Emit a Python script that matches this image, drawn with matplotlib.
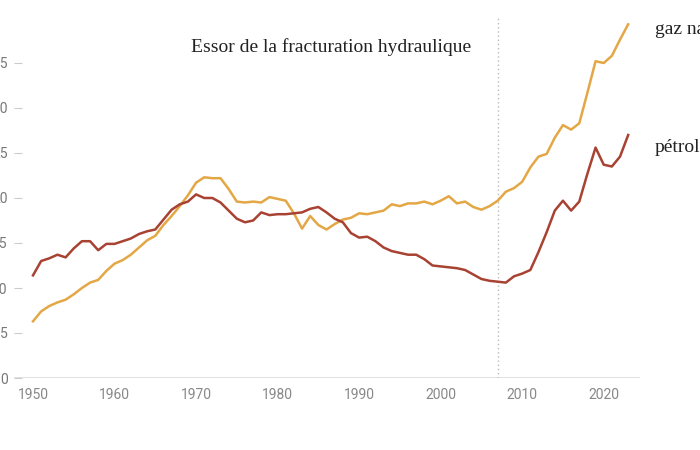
import matplotlib
matplotlib.use("Agg")
import matplotlib.pyplot as plt
import numpy as np

years = np.arange(1950, 2024)
oil = [11.4, 13.0, 13.3, 13.7, 13.4, 14.4, 15.2, 15.2, 14.2, 14.9,
       14.9, 15.2, 15.5, 16.0, 16.3, 16.5, 17.6, 18.7, 19.3, 19.6,
       20.4, 20.0, 20.0, 19.5, 18.6, 17.7, 17.3, 17.5, 18.4, 18.1,
       18.2, 18.2, 18.3, 18.4, 18.8, 19.0, 18.4, 17.7, 17.3, 16.1,
       15.6, 15.7, 15.2, 14.5, 14.1, 13.9, 13.7, 13.7, 13.2, 12.5,
       12.4, 12.3, 12.2, 12.0, 11.5, 11.0, 10.8, 10.7, 10.6, 11.3,
       11.6, 12.0, 14.0, 16.2, 18.6, 19.7, 18.6, 19.6, 22.7, 25.6,
       23.7, 23.5, 24.6, 27.0]
gas = [6.3, 7.4, 8.0, 8.4, 8.7, 9.3, 10.0, 10.6, 10.9, 11.9,
       12.7, 13.1, 13.7, 14.5, 15.3, 15.8, 17.0, 18.0, 19.1, 20.3,
       21.7, 22.3, 22.2, 22.2, 21.0, 19.6, 19.5, 19.6, 19.5, 20.1,
       19.9, 19.7, 18.3, 16.6, 18.0, 17.0, 16.5, 17.1, 17.6, 17.8,
       18.3, 18.2, 18.4, 18.6, 19.3, 19.1, 19.4, 19.4, 19.6, 19.3,
       19.7, 20.2, 19.4, 19.6, 19.0, 18.7, 19.1, 19.7, 20.7, 21.1,
       21.8, 23.4, 24.6, 24.9, 26.7, 28.1, 27.6, 28.3, 31.7, 35.2,
       35.0, 35.8, 37.6, 39.3]
yticks = [0, 5, 10, 15, 20, 25, 30, 35]
xticks = [1950, 1960, 1970, 1980, 1990, 2000, 2010, 2020]
fracking_year = 2007

fig = plt.figure(figsize=(7, 4.5), dpi=100)
ax = fig.add_axes([14/700, 1-378/450, (640-14)/700, (378-18)/450])

ax.plot(years, gas, color='#E3A745', lw=1.8)
ax.plot(years, oil, color='#A84232', lw=1.8)
ax.axhline(0, color='#dddddd', lw=1.2, zorder=0)
ax.axvline(fracking_year, color='#bbbbbb', lw=1, ls=(0, (1, 2)), zorder=0)

ax.set_xlim(1947.67, 2024.45)
ax.set_ylim(0, 40)
ax.set_yticks(yticks)
ax.set_xticks(xticks)
for s in ax.spines.values():
    s.set_visible(False)
ax.tick_params(axis='y', direction='in', length=6, color='#cccccc', pad=4.5,
               labelsize=10, labelcolor='#777777')
ax.tick_params(axis='x', length=0, pad=7, labelsize=10, labelcolor='#888888')
for lab in ax.get_xticklabels() + ax.get_yticklabels():
    lab.set_fontfamily('Roboto')

serif = 'Liberation Serif'
fig.text(331/700, 1-47/450, 'Essor de la fracturation hydraulique', family=serif,
         fontsize=14, color='#222222', ha='center', va='center')
fig.text(655/700, 1-30/450, 'gaz naturel', family=serif, fontsize=14,
         color='#222222', ha='left', va='center')
fig.text(655/700, 1-148/450, 'pétrole', family=serif, fontsize=14,
         color='#222222', ha='left', va='center')

fig.savefig('out.png', dpi=100)
